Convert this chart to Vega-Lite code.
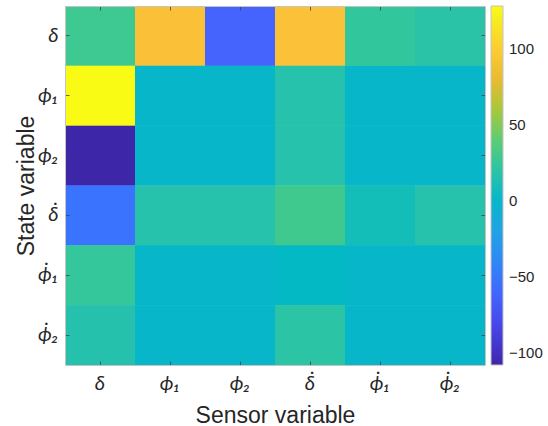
{
  "$schema": "https://vega.github.io/schema/vega-lite/v6.json",
  "width": 420,
  "height": 359,
  "autosize": {"type": "none"},
  "padding": {"left": 65, "top": 6, "right": 63, "bottom": 61},
  "background": "white",
  "config": {"view": {"stroke": null}, "font": "Liberation Sans"},
  "data": {
    "values": [
      {"state": "δ", "sensor": "δ", "value": 29},
      {"state": "δ", "sensor": "ϕ₁", "value": 91},
      {"state": "δ", "sensor": "ϕ₂", "value": -63},
      {"state": "δ", "sensor": "δ̇", "value": 92},
      {"state": "δ", "sensor": "ϕ̇₁", "value": 24},
      {"state": "δ", "sensor": "ϕ̇₂", "value": 19},
      {"state": "ϕ₁", "sensor": "δ", "value": 128},
      {"state": "ϕ₁", "sensor": "ϕ₁", "value": 0},
      {"state": "ϕ₁", "sensor": "ϕ₂", "value": 0},
      {"state": "ϕ₁", "sensor": "δ̇", "value": 17},
      {"state": "ϕ₁", "sensor": "ϕ̇₁", "value": 0},
      {"state": "ϕ₁", "sensor": "ϕ̇₂", "value": 0},
      {"state": "ϕ₂", "sensor": "δ", "value": -108},
      {"state": "ϕ₂", "sensor": "ϕ₁", "value": 0},
      {"state": "ϕ₂", "sensor": "ϕ₂", "value": 0},
      {"state": "ϕ₂", "sensor": "δ̇", "value": 17},
      {"state": "ϕ₂", "sensor": "ϕ̇₁", "value": 0},
      {"state": "ϕ₂", "sensor": "ϕ̇₂", "value": 0},
      {"state": "δ̇", "sensor": "δ", "value": -53},
      {"state": "δ̇", "sensor": "ϕ₁", "value": 17},
      {"state": "δ̇", "sensor": "ϕ₂", "value": 17},
      {"state": "δ̇", "sensor": "δ̇", "value": 30},
      {"state": "δ̇", "sensor": "ϕ̇₁", "value": 10},
      {"state": "δ̇", "sensor": "ϕ̇₂", "value": 17},
      {"state": "ϕ̇₁", "sensor": "δ", "value": 25},
      {"state": "ϕ̇₁", "sensor": "ϕ₁", "value": 0},
      {"state": "ϕ̇₁", "sensor": "ϕ₂", "value": 0},
      {"state": "ϕ̇₁", "sensor": "δ̇", "value": 4},
      {"state": "ϕ̇₁", "sensor": "ϕ̇₁", "value": 0},
      {"state": "ϕ̇₁", "sensor": "ϕ̇₂", "value": 0},
      {"state": "ϕ̇₂", "sensor": "δ", "value": 16},
      {"state": "ϕ̇₂", "sensor": "ϕ₁", "value": 0},
      {"state": "ϕ̇₂", "sensor": "ϕ₂", "value": 0},
      {"state": "ϕ̇₂", "sensor": "δ̇", "value": 20},
      {"state": "ϕ̇₂", "sensor": "ϕ̇₁", "value": 0},
      {"state": "ϕ̇₂", "sensor": "ϕ̇₂", "value": 0}
    ]
  },
  "layer": [
    {
      "mark": {"type": "rect"},
      "encoding": {
        "x": {
          "field": "sensor", "type": "nominal",
          "sort": ["δ", "ϕ₁", "ϕ₂", "δ̇", "ϕ̇₁", "ϕ̇₂"],
          "axis": {
            "orient": "bottom", "title": "Sensor variable",
            "titleFont": "Liberation Sans", "titleFontSize": 23, "titleFontWeight": "normal",
            "titleColor": "#262626", "titleY": 57, "titleBaseline": "alphabetic",
            "labelFont": "Lato", "labelFontStyle": "italic", "labelFontSize": 20,
            "labelColor": "#262626", "labelAngle": 0, "labelBaseline": "alphabetic",
            "labelPadding": 28, "tickSize": -4, "tickColor": "#404040", "tickWidth": 0.8,
            "domainColor": "#c4c4c4", "zindex": 1
          }
        },
        "y": {
          "field": "state", "type": "nominal",
          "sort": ["δ", "ϕ₁", "ϕ₂", "δ̇", "ϕ̇₁", "ϕ̇₂"],
          "axis": {
            "orient": "left", "title": "State variable",
            "titleFont": "Liberation Sans", "titleFontSize": 23, "titleFontWeight": "normal",
            "titleColor": "#262626", "titleX": -32, "titleY": 179.5, "titleBaseline": "alphabetic",
            "labelFont": "Lato", "labelFontStyle": "italic", "labelFontSize": 20,
            "labelColor": "#262626", "labelAngle": 0, "labelBaseline": "middle",
            "labelPadding": 11, "tickSize": -4, "tickColor": "#404040", "tickWidth": 0.8,
            "domainColor": "#c4c4c4", "zindex": 1
          }
        },
        "color": {
          "field": "value", "type": "quantitative",
          "scale": {
            "type": "linear", "interpolate": "rgb",
            "domain": [-108, -96.76, -85.52, -74.29, -63.05, -51.81, -40.57, -29.33, -18.1, -6.86, 4.38, 15.62, 26.86, 38.1, 49.33, 60.57, 71.81, 83.05, 94.29, 105.52, 116.76, 128],
            "range": ["#3E26A8", "#4332CB", "#4741E5", "#4852F4", "#4563FD", "#3875FE", "#2E87F7", "#2796EB", "#20A5E3", "#12B1D6", "#02BAC3", "#24C1AE", "#37C897", "#57CC7A", "#81CC59", "#ABC739", "#D1BF27", "#F0BA36", "#FEC338", "#FAD62D", "#F5E924", "#F9FB15"]
          },
          "legend": {
            "title": null, "orient": "none", "legendX": 426, "legendY": 0,
            "direction": "vertical", "gradientLength": 359, "gradientThickness": 12,
            "values": [-100, -50, 0, 50, 100], "labelFont": "Liberation Sans",
            "labelFontSize": 15, "labelColor": "#262626", "labelOffset": 6,
            "labelOverlap": false, "padding": 0,
            "gradientStrokeColor": "#c4c4c4", "gradientStrokeWidth": 1
          }
        }
      }
    },
    {
      "mark": {"type": "rect"},
      "encoding": {
        "x": {
          "field": "sensor", "type": "nominal",
          "sort": ["δ", "ϕ₁", "ϕ₂", "δ̇", "ϕ̇₁", "ϕ̇₂"],
          "axis": {
            "orient": "top", "title": null, "labels": false,
            "tickSize": -4, "tickColor": "#404040", "tickWidth": 0.8,
            "domainColor": "#c4c4c4", "zindex": 1
          }
        },
        "y": {
          "field": "state", "type": "nominal",
          "sort": ["δ", "ϕ₁", "ϕ₂", "δ̇", "ϕ̇₁", "ϕ̇₂"],
          "axis": {
            "orient": "right", "title": null, "labels": false,
            "tickSize": -4, "tickColor": "#404040", "tickWidth": 0.8,
            "domainColor": "#c4c4c4", "zindex": 1
          }
        },
        "color": {
          "field": "value", "type": "quantitative",
          "legend": {
            "title": null, "orient": "none", "legendX": 426, "legendY": 0,
            "direction": "vertical", "gradientLength": 359, "gradientThickness": 12,
            "values": [-100, -50, 0, 50, 100], "labelFont": "Liberation Sans",
            "labelFontSize": 15, "labelColor": "#262626", "labelOffset": 6,
            "labelOverlap": false, "padding": 0,
            "gradientStrokeColor": "#c4c4c4", "gradientStrokeWidth": 1
          }
        }
      }
    }
  ],
  "resolve": {"axis": {"x": "independent", "y": "independent"}}
}
